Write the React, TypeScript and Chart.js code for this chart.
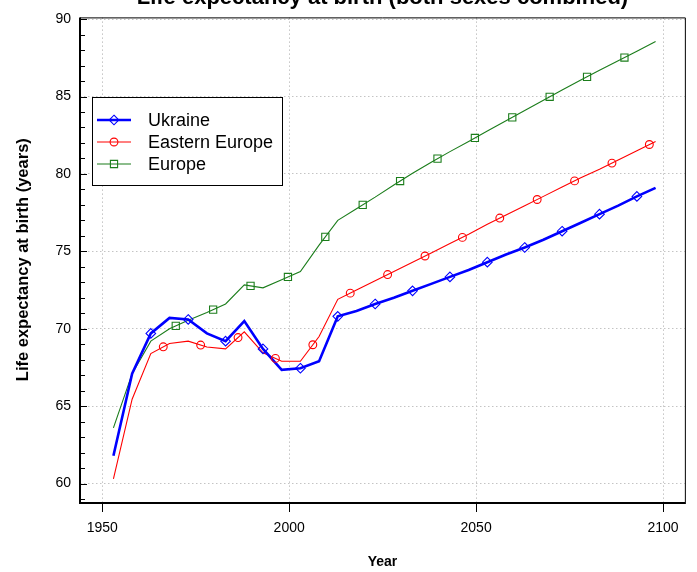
import React, { useEffect, useRef } from "react";
import { Chart, registerables } from "chart.js";

Chart.register(...registerables);

const chartTitle = "Life expectancy at birth (both sexes combined)";
const xAxisTitle = "Year";
const yAxisTitle = "Life expectancy at birth (years)";
const seriesNames = ["Ukraine", "Eastern Europe", "Europe"];

const years = [
  1953, 1958, 1963, 1968, 1973, 1978, 1983, 1988, 1993, 1998,
  2003, 2008, 2013, 2018, 2023, 2028, 2033, 2038, 2043, 2048,
  2053, 2058, 2063, 2068, 2073, 2078, 2083, 2088, 2093, 2098,
];

const ukraine = [
  61.8, 67.1, 69.7, 70.7, 70.6, 69.7, 69.2, 70.5, 68.7, 67.35,
  67.45, 67.9, 70.8, 71.15, 71.6, 72.0, 72.45, 72.9, 73.35, 73.8,
  74.3, 74.8, 75.25, 75.75, 76.3, 76.85, 77.4, 77.95, 78.55, 79.1,
];

const easternEurope = [
  60.3, 65.45, 68.4, 69.05, 69.2, 68.82, 68.7, 69.8, 68.45, 67.9,
  67.9, 69.5, 71.9, 72.5, 73.1, 73.7, 74.3, 74.9, 75.5, 76.1,
  76.75, 77.35, 77.95, 78.55, 79.15, 79.75, 80.3, 80.9, 81.5, 82.1,
];

const europe = [
  63.6, 67.1, 69.2, 70.0, 70.55, 71.05, 71.6, 72.83, 72.64, 73.17,
  73.7, 75.4, 77.0, 77.75, 78.5, 79.29, 80.04, 80.76, 81.44, 82.1,
  82.77, 83.43, 84.1, 84.76, 85.42, 86.06, 86.69, 87.31, 87.93, 88.55,
];

const xTickValues = [1950, 2000, 2050, 2100];
const yTickValues = [60, 65, 70, 75, 80, 85, 90];

const FONT = '"Liberation Sans", Arial, Helvetica, sans-serif';

const seriesStyles = [
  { color: "#0000FF", width: 2.6, marker: "diamond", markerFirst: 1963 },
  { color: "#FF0000", width: 1.1, marker: "circle", markerFirst: 1966.33 },
  { color: "#1B7D1B", width: 1.1, marker: "square", markerFirst: 1969.67 },
];
const seriesData = [ukraine, easternEurope, europe];

function drawMarker(ctx: CanvasRenderingContext2D, kind: string, x: number, y: number, color: string) {
  ctx.save();
  ctx.strokeStyle = color;
  ctx.lineWidth = 1.1;
  ctx.beginPath();
  if (kind === "diamond") {
    const r = 4.8;
    ctx.moveTo(x, y - r);
    ctx.lineTo(x + r, y);
    ctx.lineTo(x, y + r);
    ctx.lineTo(x - r, y);
    ctx.closePath();
  } else if (kind === "circle") {
    ctx.arc(x, y, 3.9, 0, Math.PI * 2);
  } else {
    ctx.rect(x - 3.6, y - 3.6, 7.2, 7.2);
  }
  ctx.stroke();
  ctx.restore();
}

function valueOnLine(data: number[], yr: number) {
  for (let i = 0; i < years.length - 1; i++) {
    if (yr >= years[i] && yr <= years[i + 1]) {
      const t = (yr - years[i]) / (years[i + 1] - years[i]);
      return data[i] + t * (data[i + 1] - data[i]);
    }
  }
  return data[data.length - 1];
}

const decorPlugin = {
  id: "decor",
  afterDatasetsDraw(chart: any) {
    const ctx = chart.ctx as CanvasRenderingContext2D;
    const xs = chart.scales.x;
    const ys = chart.scales.y;
    seriesStyles.forEach((st, si) => {
      for (let yr = st.markerFirst; yr <= years[years.length - 1] + 0.01; yr += 10) {
        const v = valueOnLine(seriesData[si], yr);
        drawMarker(ctx, st.marker, xs.getPixelForValue(yr), ys.getPixelForValue(v), st.color);
      }
    });
  },
  afterDraw(chart: any) {
    const ctx = chart.ctx as CanvasRenderingContext2D;
    const a = chart.chartArea;
    const xs = chart.scales.x;
    const ys = chart.scales.y;
    ctx.save();
    ctx.strokeStyle = "#000";
    ctx.lineWidth = 1;
    ctx.beginPath();
    ctx.moveTo(a.left, a.top + 0.5);
    ctx.lineTo(a.right + 0.5, a.top + 0.5);
    ctx.lineTo(a.right + 0.5, a.bottom);
    ctx.stroke();
    ctx.lineWidth = 2;
    ctx.beginPath();
    ctx.moveTo(a.left, a.top);
    ctx.lineTo(a.left, a.bottom + 1);
    ctx.lineTo(a.right + 1, a.bottom + 1);
    ctx.stroke();
    ctx.lineWidth = 1;
    ctx.beginPath();
    for (let v = 59; v <= 90; v++) {
      const py = Math.round(ys.getPixelForValue(v)) + 0.5;
      const len = v % 5 === 0 ? 7 : 5;
      ctx.moveTo(a.left, py);
      ctx.lineTo(a.left + len, py);
    }
    xTickValues.forEach((v) => {
      const px = Math.round(xs.getPixelForValue(v)) + 0.5;
      ctx.moveTo(px, a.bottom + 1);
      ctx.lineTo(px, a.bottom + 10);
    });
    ctx.stroke();

    ctx.fillStyle = "#000";
    ctx.textAlign = "center";
    ctx.textBaseline = "alphabetic";
    ctx.font = `bold 22px ${FONT}`;
    ctx.fillText(chartTitle, (a.left + a.right) / 2, 4);
    ctx.font = `bold 14px ${FONT}`;
    ctx.textBaseline = "middle";
    ctx.fillText(xAxisTitle, (a.left + a.right) / 2, 562);
    ctx.save();
    ctx.translate(23, (a.top + a.bottom) / 2);
    ctx.rotate(-Math.PI / 2);
    ctx.font = `bold 16.5px ${FONT}`;
    ctx.fillText(yAxisTitle, 0, 0);
    ctx.restore();

    const lx = 92.5, ly = 97.5, lw = 190, lh = 88;
    ctx.fillStyle = "#fff";
    ctx.fillRect(lx, ly, lw, lh);
    ctx.strokeStyle = "#000";
    ctx.lineWidth = 1;
    ctx.strokeRect(lx, ly, lw, lh);
    const rows = [120, 142, 164];
    seriesStyles.forEach((st, i) => {
      const ry = rows[i];
      ctx.strokeStyle = st.color;
      ctx.lineWidth = st.width;
      ctx.beginPath();
      ctx.moveTo(97, ry);
      ctx.lineTo(131, ry);
      ctx.stroke();
      drawMarker(ctx, st.marker, 114, ry, st.color);
      ctx.fillStyle = "#000";
      ctx.font = `18px ${FONT}`;
      ctx.textAlign = "left";
      ctx.textBaseline = "middle";
      ctx.fillText(seriesNames[i], 148, ry + 1);
    });
    ctx.restore();
  },
};

export default function App() {
  const ref = useRef<HTMLCanvasElement | null>(null);
  useEffect(() => {
    if (!ref.current) return;
    Chart.defaults.font.family = FONT;
    const chart = new Chart(ref.current, {
      type: "line",
      data: {
        datasets: seriesData.map((d, i) => ({
          label: seriesNames[i],
          data: years.map((yr, k) => ({ x: yr, y: d[k] })),
          borderColor: seriesStyles[i].color,
          borderWidth: seriesStyles[i].width,
          pointRadius: 0,
          tension: 0,
          fill: false,
        })),
      },
      options: {
        responsive: false,
        devicePixelRatio: 1,
        animation: false,
        layout: { padding: { left: 0, top: 11, right: 10, bottom: 0 } },
        plugins: { legend: { display: false }, tooltip: { enabled: false }, title: { display: false } },
        scales: {
          x: {
            type: "linear",
            min: 1944.06,
            max: 2105.83,
            afterBuildTicks: (s: any) => {
              s.ticks = xTickValues.map((v) => ({ value: v }));
            },
            afterFit: (s: any) => {
              s.height = 70;
            },
            grid: { color: "#c4c4c4", lineWidth: 1, drawTicks: false },
            border: { display: false, dash: [1.5, 2.5] },
            ticks: {
              color: "#000",
              font: { size: 14, family: FONT },
              padding: 18,
              maxRotation: 0,
              autoSkip: false,
              callback: (v: any) => String(v),
            },
          },
          y: {
            type: "linear",
            min: 58.81,
            max: 90.11,
            afterBuildTicks: (s: any) => {
              s.ticks = yTickValues.map((v) => ({ value: v }));
            },
            afterFit: (s: any) => {
              s.width = 80;
            },
            grid: { color: "#c4c4c4", lineWidth: 1, drawTicks: false },
            border: { display: false, dash: [1.5, 2.5] },
            ticks: {
              color: "#000",
              font: { size: 14, family: FONT },
              padding: 9,
              autoSkip: false,
              callback: (v: any) => String(v),
            },
          },
        },
      },
      plugins: [decorPlugin],
    });
    return () => chart.destroy();
  }, []);
  return (
    <div style={{ position: "absolute", left: 0, top: 0, width: 697, height: 572 }}>
      <canvas ref={ref} width={697} height={572} style={{ display: "block" }} />
    </div>
  );
}
